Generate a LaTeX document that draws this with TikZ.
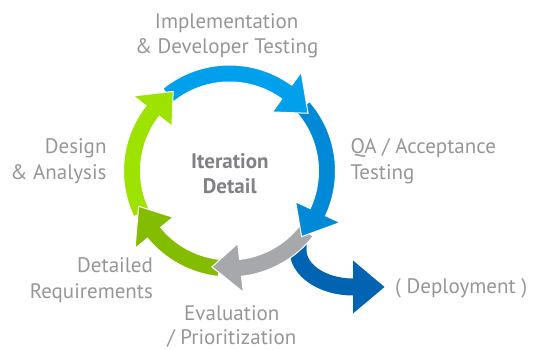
\documentclass[tikz,border=0pt]{standalone}
\usepackage{fontspec}
\setmainfont{PT Sans}
\usetikzlibrary{calc}
\definecolor{lbcol}{RGB}{0,160,236}
\definecolor{dbcol}{RGB}{0,137,214}
\definecolor{grcol}{RGB}{166,168,172}
\definecolor{dgcol}{RGB}{132,189,0}
\definecolor{lgcol}{RGB}{158,226,0}
\definecolor{depcol}{RGB}{0,100,178}
\definecolor{txtcol}{RGB}{150,150,150}
\definecolor{midcol}{RGB}{128,128,133}
\newcommand\cyclarrow[4]{%
  \filldraw[fill=#1, draw=white, line width=1pt, line join=miter]
    ($(C)+(#2:106pt)$) arc[start angle=#2, end angle=#3, radius=106pt]
    -- ($(C)+(#3:122pt)$) -- ($(C)+(#4:97.5pt)$) -- ($(C)+(#3:73pt)$)
    -- ($(C)+(#3:89pt)$) arc[start angle=#3, end angle=#2, radius=89pt] -- cycle;
}
\tikzset{
  lbl/.style={text=txtcol, inner sep=0pt, font=\fontsize{21}{25}\selectfont},
  midlbl/.style={text=midcol, inner sep=0pt, font=\fontsize{21}{25}\selectfont\bfseries},
}
\begin{document}
\begin{tikzpicture}[x=1pt,y=1pt]
\useasboundingbox (0,0) rectangle (539,349);
\coordinate (C) at (229.5,178);
% cycle arrows
\cyclarrow{lbcol}{129}{54}{36.3}
\cyclarrow{lgcol}{205.5}{142}{125.3}
\cyclarrow{dgcol}{-96}{-140.7}{-158.8}
% deployment arrow
\coordinate (dstart) at (298,112);
\coordinate (dtip) at (384.5,62);
\draw[depcol, line width=17pt] (dstart) -- (298,99)
  arc[start angle=180, end angle=270, x radius=55pt, y radius=37pt] -- (354,62);
\fill[depcol] (353,35.5) -- (dtip) -- (353,88.5) -- cycle;
\cyclarrow{grcol}{-38}{-83.5}{-100.4}
\cyclarrow{dbcol}{41}{-25}{-42.3}
% redraw light blue head on top
\fill[lbcol] ($(C)+(54:122pt)$) -- ($(C)+(36.3:97.5pt)$) -- ($(C)+(54:73pt)$) -- cycle;
\draw[white, line width=1pt, line join=miter] ($(C)+(54:106pt)$) -- ($(C)+(54:122pt)$)
  -- ($(C)+(36.3:97.5pt)$) -- ($(C)+(54:73pt)$) -- ($(C)+(54:89pt)$);
% labels
\node[lbl, anchor=base] (impl1) at (226.7,320.5) {Implementation};
\node[lbl, anchor=base] (impl2) at (226.7,295) {\& Developer Testing};
\node[lbl, anchor=base east] (des1) at (106.7,195.5) {Design};
\node[lbl, anchor=base east] (des2) at (106.7,170) {\& Analysis};
\node[midlbl, anchor=base] (it1) at (229.8,180.7) {Iteration};
\node[midlbl, anchor=base] (it2) at (229.8,155.7) {Detail};
\node[lbl, anchor=base west] (qa1) at (350.3,195.5) {QA / Acceptance};
\node[lbl, anchor=base west] (qa2) at (350.3,170) {Testing};
\node[lbl, anchor=base east] (det1) at (153.1,76.3) {Detailed};
\node[lbl, anchor=base east] (det2) at (153.1,50.7) {Requirements};
\node[lbl, anchor=base] (ev1) at (231.8,29) {Evaluation};
\node[lbl, anchor=base] (ev2) at (231.8,5) {/ Prioritization};
\node[lbl, anchor=base west] (dep) at (395,56) {( Deployment )};
\end{tikzpicture}
\end{document}
